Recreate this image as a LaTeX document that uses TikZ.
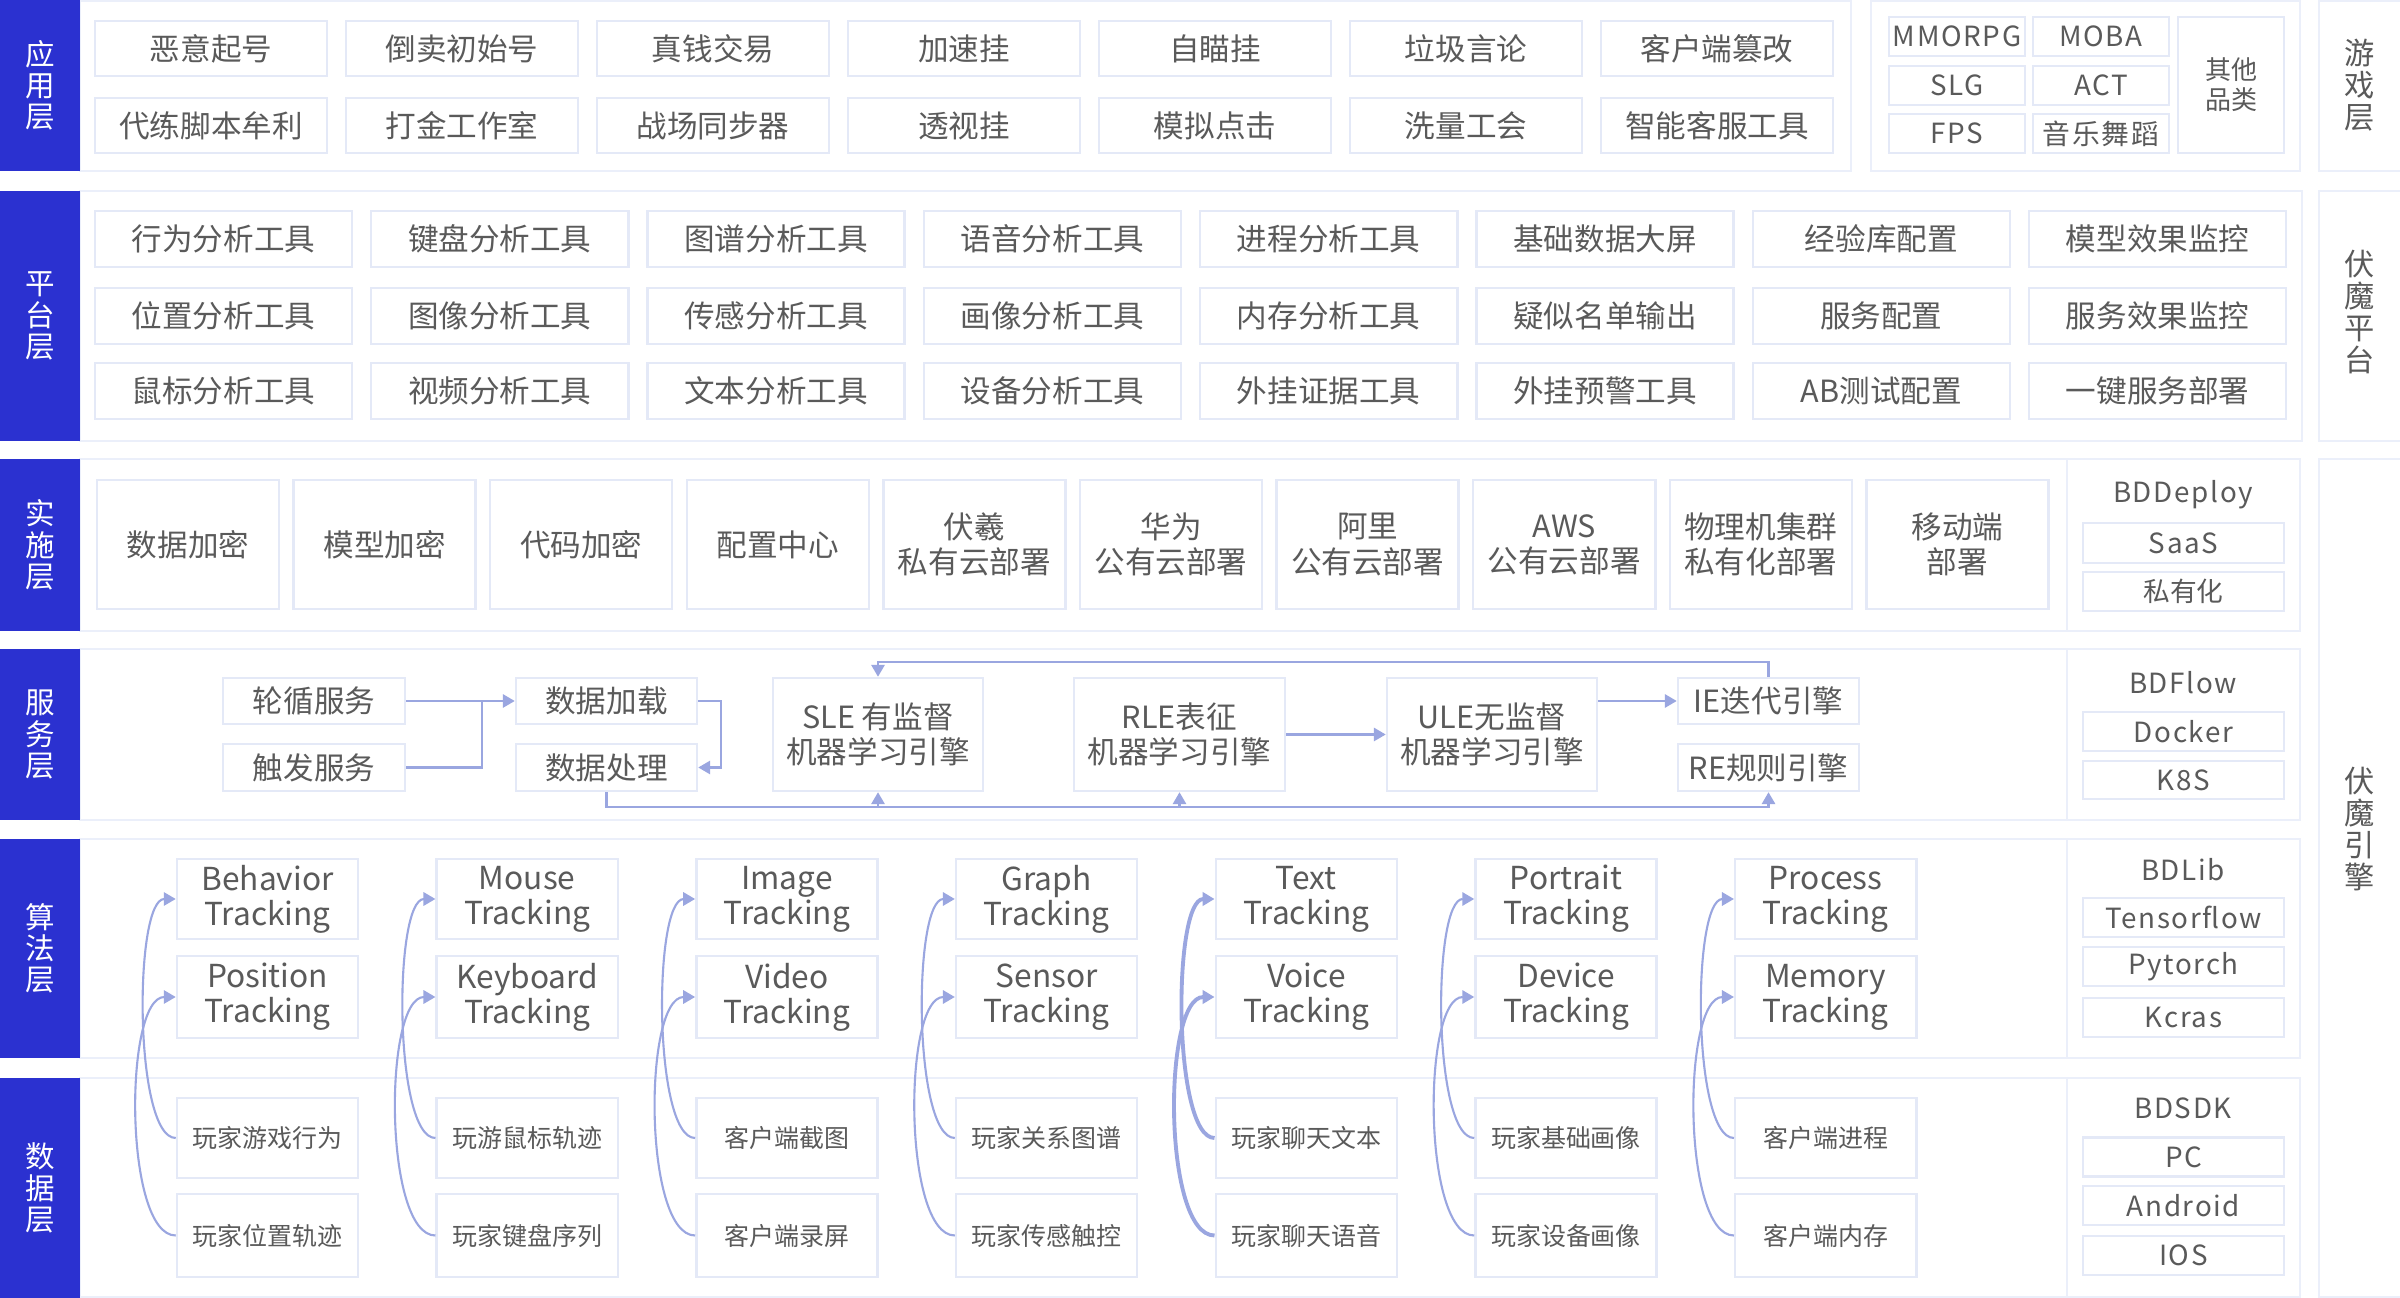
\documentclass[tikz,border=0pt]{standalone}
\usepackage{fontspec}
\setmainfont{Noto Sans CJK SC}
\newfontfamily\spaced[LetterSpace=6]{Noto Sans CJK SC}
\usetikzlibrary{arrows.meta,calc}

\definecolor{barblue}{HTML}{2B31D0}
\definecolor{edgegray}{HTML}{E4E9F7}
\definecolor{panelline}{HTML}{EBEFFA}
\definecolor{flowblue}{HTML}{9AA6E0}
\definecolor{txtgray}{HTML}{5A5A5A}

\begin{document}
\begin{tikzpicture}[x=0.01cm, y=-0.01cm,
    cell/.style={draw=edgegray, line width=0.7pt, fill=white, inner sep=0pt, text=txtgray, align=center, font=\fontsize{8.7}{10}\selectfont},
    small/.style={font=\fontsize{7.1}{8}\selectfont},
    track/.style={font=\fontsize{9}{10}\selectfont},
    tag/.style={font=\spaced\fontsize{7.9}{9}\selectfont},
    bar/.style={fill=barblue, inner sep=0pt, minimum width=0.8cm, text=white, align=center, font=\fontsize{8.4}{8.9}\selectfont},
    side/.style={inner sep=0pt, text=txtgray, align=center, font=\fontsize{8.6}{9.1}\selectfont},
    panel/.style={draw=panelline, line width=0.7pt},
    link/.style={draw=flowblue, line width=0.6pt},
    flow/.style={link, -{Triangle[length=3.4pt,width=3.8pt]}}]

    \fill[white] (0,0) rectangle (2400,1298);
    \useasboundingbox (0,0) rectangle (2400,1298);

    % panels
    \draw[panel] (80,1) rectangle (1851,171);
    \draw[panel] (1871,1) rectangle (2300,171);
    \draw[panel] (2319,1) rectangle (2402,171);
    \draw[panel] (80,191) rectangle (2302,441);
    \draw[panel] (2319,191) rectangle (2402,441);
    \foreach \top/\bot in {459/631, 649/820, 839/1058, 1078/1297} {
        \draw[panel] (80,\top) rectangle (2300,\bot);
        \draw[panel] (2067,\top) -- (2067,\bot);
    }
    \draw[panel] (2319,459) rectangle (2402,1297);

    % layer bars
    \node[bar, minimum height=1.71cm] (appbar) at (40,85.5) {应\\用\\层};
    \node[bar, minimum height=2.50cm] (platbar) at (40,316) {平\\台\\层};
    \node[bar, minimum height=1.72cm] (implbar) at (40,545) {实\\施\\层};
    \node[bar, minimum height=1.71cm] (svcbar) at (40,734.5) {服\\务\\层};
    \node[bar, minimum height=2.19cm] (algobar) at (40,948.5) {算\\法\\层};
    \node[bar, minimum height=2.20cm] (databar) at (40,1188) {数\\据\\层};

    \node[side] (gamelbl) at (2360,85) {游\\戏\\层};
    \node[side] (platlbl) at (2360,312) {伏\\魔\\平\\台};
    \node[side] (enginelbl) at (2360,829) {伏\\魔\\引\\擎};

    % application layer
    \foreach \t [count=\i from 0] in {恶意起号,倒卖初始号,真钱交易,加速挂,自瞄挂,垃圾言论,客户端篡改}
        \node[cell, minimum width=2.32cm, minimum height=0.55cm] (appa\i) at (211+251*\i,48.5) {\t};
    \foreach \t [count=\i from 0] in {代练脚本牟利,打金工作室,战场同步器,透视挂,模拟点击,洗量工会,智能客服工具}
        \node[cell, minimum width=2.32cm, minimum height=0.55cm] (appb\i) at (211+251*\i,125.5) {\t};

    \foreach \a/\b/\y [count=\i] in {MMORPG/MOBA/36.5, SLG/ACT/85.5, FPS/音乐舞蹈/133.5} {
        \node[cell, tag, minimum width=1.36cm, minimum height=0.39cm] (gamel\i) at (1957,\y) {\a};
        \node[cell, tag, minimum width=1.36cm, minimum height=0.39cm] (gamer\i) at (2101,\y) {\b};
    }
    \node[cell, font=\fontsize{7.4}{8.6}\selectfont, minimum width=1.06cm, minimum height=1.36cm] (gameother) at (2231,85) {其他\\品类};

    % platform layer
    \foreach \t [count=\i from 0] in {行为分析工具,键盘分析工具,图谱分析工具,语音分析工具,进程分析工具,基础数据大屏,经验库配置,模型效果监控}
        \node[cell, minimum width=2.57cm, minimum height=0.56cm] (plata\i) at (223.5+276.3*\i,239) {\t};
    \foreach \t [count=\i from 0] in {位置分析工具,图像分析工具,传感分析工具,画像分析工具,内存分析工具,疑似名单输出,服务配置,服务效果监控}
        \node[cell, minimum width=2.57cm, minimum height=0.56cm] (platb\i) at (223.5+276.3*\i,316) {\t};
    \foreach \t [count=\i from 0] in {鼠标分析工具,视频分析工具,文本分析工具,设备分析工具,外挂证据工具,外挂预警工具,AB测试配置,一键服务部署}
        \node[cell, minimum width=2.57cm, minimum height=0.56cm] (platc\i) at (223.5+276.3*\i,391) {\t};

    % implementation layer
    \foreach \t [count=\i from 0] in {数据加密,模型加密,代码加密,配置中心,{伏羲\\私有云部署},{华为\\公有云部署},{阿里\\公有云部署},{AWS\\公有云部署},{物理机集群\\私有化部署},{移动端\\部署}}
        \node[cell, minimum width=1.82cm, minimum height=1.29cm] (impl\i) at (188+196.6*\i,544.5) {\t};

    \node[side, tag] (bddeploy) at (2183,495) {BDDeploy};
    \node[cell, tag, minimum width=2.01cm, minimum height=0.40cm] (saas) at (2183.5,543) {SaaS};
    \node[cell, minimum width=2.01cm, minimum height=0.39cm, font=\fontsize{7.6}{9}\selectfont] (private) at (2183.5,591.5) {私有化};

    % service layer
    \node[cell, minimum width=1.82cm, minimum height=0.46cm] (lunxun) at (314,701) {轮循服务};
    \node[cell, minimum width=1.82cm, minimum height=0.47cm] (chufa) at (314,767.5) {触发服务};
    \node[cell, minimum width=1.81cm, minimum height=0.46cm] (jiazai) at (606.5,701) {数据加载};
    \node[cell, minimum width=1.81cm, minimum height=0.47cm] (chuli) at (606.5,767.5) {数据处理};
    \node[cell, minimum width=2.10cm, minimum height=1.13cm] (sle) at (878,734.5) {SLE 有监督\\机器学习引擎};
    \node[cell, minimum width=2.11cm, minimum height=1.13cm] (rle) at (1179.5,734.5) {RLE表征\\机器学习引擎};
    \node[cell, minimum width=2.10cm, minimum height=1.13cm] (ule) at (1492,734.5) {ULE无监督\\机器学习引擎};
    \node[cell, minimum width=1.81cm, minimum height=0.46cm] (ie) at (1768.5,701) {IE迭代引擎};
    \node[cell, minimum width=1.81cm, minimum height=0.47cm] (re) at (1768.5,767.5) {RE规则引擎};

    \coordinate (merge) at (482,701);
    \coordinate (bus) at (606.5,807);
    \draw[flow] (lunxun) -- (jiazai);
    \draw[link] (chufa.east) -| (merge);
    \draw[flow] (jiazai.east) -- ++(23,0) |- (chuli.east);
    \draw[flow] (chuli.south) -- (bus) -| (re.south);
    \draw[flow] (sle.south |- bus) -- (sle.south);
    \draw[flow] (rle.south |- bus) -- (rle.south);
    \draw[flow] (ie.north) -- ++(0,-15) -| (sle.north);
    \draw[flow] (rle) -- (ule);
    \draw[flow] (ule.east |- ie.west) -- (ie.west);

    \node[side, tag] (bdflow) at (2183,683) {BDFlow};
    \node[cell, tag, minimum width=2.01cm, minimum height=0.39cm] (docker) at (2183.5,731.5) {Docker};
    \node[cell, tag, minimum width=2.01cm, minimum height=0.38cm] (k8s) at (2183.5,780) {K8S};

    % algorithm and data layers
    \foreach \a/\b [count=\i from 0] in {Behavior/Position,Mouse/Keyboard,Image/Video,Graph/Sensor,Text/Voice,Portrait/Device,Process/Memory} {
        \node[cell, track, minimum width=1.81cm, minimum height=0.80cm] (ta\i) at (267.5+259.7*\i,899) {\a\\Tracking};
        \node[cell, track, minimum width=1.81cm, minimum height=0.82cm] (tb\i) at (267.5+259.7*\i,997) {\b\\Tracking};
    }
    \foreach \a/\b [count=\i from 0] in {玩家游戏行为/玩家位置轨迹,玩游鼠标轨迹/玩家键盘序列,客户端截图/客户端录屏,玩家关系图谱/玩家传感触控,玩家聊天文本/玩家聊天语音,玩家基础画像/玩家设备画像,客户端进程/客户端内存} {
        \node[cell, small, minimum width=1.81cm, minimum height=0.80cm] (da\i) at (267.5+259.7*\i,1138) {\a};
        \node[cell, small, minimum width=1.81cm, minimum height=0.83cm] (db\i) at (267.5+259.7*\i,1235.5) {\b};
    }
    \foreach \i/\w in {0/0.6pt,1/0.6pt,2/0.6pt,3/0.6pt,4/1.1pt,5/0.6pt,6/0.6pt} {
        \draw[flow, line width=\w] (da\i.west) .. controls +(-42,0) and +(-42,0) .. (ta\i.west);
        \draw[flow, line width=\w] (db\i.west) .. controls +(-52,0) and +(-52,0) .. (tb\i.west);
    }

    \node[side, tag] (bdlib) at (2183,870) {BDLib};
    \foreach \t/\y [count=\i] in {Tensorflow/917.5, Pytorch/966.5, Kcras/1017.5}
        \node[cell, tag, minimum width=2.01cm, minimum height=0.39cm] (lib\i) at (2183.5,\y) {\t};

    \node[side, tag] (bdsdk) at (2183,1108) {BDSDK};
    \foreach \t/\y [count=\i] in {PC/1157, Android/1205.5, IOS/1255.5}
        \node[cell, tag, minimum width=2.01cm, minimum height=0.39cm] (sdk\i) at (2183.5,\y) {\t};
\end{tikzpicture}
\end{document}
